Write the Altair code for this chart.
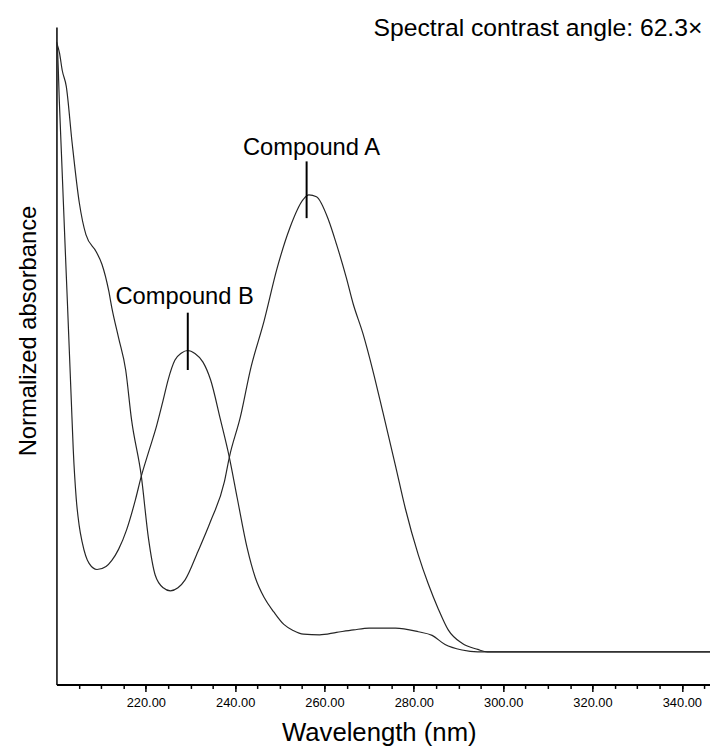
import altair as alt
import pandas as pd

# ---- data ----
wl_a = [200.0, 200.7, 201.3, 202.2, 203.5, 205.1, 206.6, 208.9, 210.2, 211.7,
        212.4, 213.9, 215.5, 216.8, 219.0, 220.6, 222.1, 223.9, 225.5, 227.2,
        228.8, 231.7, 234.5, 237.6, 238.7, 241.2, 243.4, 246.5, 249.4, 252.2,
        255.3, 256.5, 258.2, 260.9, 262.7, 264.9, 266.4, 268.6, 270.8, 273.1,
        275.9, 278.1, 281.0, 283.2, 285.5, 287.7, 290.8, 294.3, 296.5, 346.3]
abs_a = [1.000, 0.981, 0.953, 0.927, 0.835, 0.737, 0.684, 0.656, 0.635, 0.592,
         0.564, 0.515, 0.462, 0.381, 0.288, 0.186, 0.126, 0.105, 0.100, 0.105,
         0.118, 0.165, 0.214, 0.279, 0.319, 0.386, 0.462, 0.543, 0.629, 0.694,
         0.742, 0.749, 0.746, 0.708, 0.668, 0.613, 0.571, 0.522, 0.462, 0.392,
         0.305, 0.235, 0.159, 0.112, 0.070, 0.036, 0.014, 0.004, 0.0, 0.0]

wl_b = [200.0, 200.22, 200.66, 201.11, 201.55, 201.99, 202.44, 202.88, 203.32, 203.76,
        204.43, 205.09, 205.76, 207.31, 209.08, 211.1, 212.4, 213.9, 215.7, 217.7,
        219.0, 220.6, 222.4, 223.9, 225.0, 226.5, 228.0, 229.4, 231.0, 232.8,
        234.5, 236.7, 238.7, 240.5, 242.7, 244.5, 246.5, 248.7, 250.9, 253.0,
        255.3, 258.9, 262.7, 266.5, 270.0, 275.9, 281.0, 284.1, 287.0, 290.8,
        294.3, 346.3]
abs_b = [1.000, 0.989, 0.900, 0.818, 0.737, 0.656, 0.575, 0.494, 0.413, 0.332,
         0.251, 0.207, 0.180, 0.145, 0.135, 0.140, 0.150, 0.168, 0.200, 0.250,
         0.288, 0.327, 0.370, 0.413, 0.446, 0.478, 0.490, 0.494, 0.489, 0.475,
         0.446, 0.381, 0.319, 0.251, 0.170, 0.122, 0.089, 0.065, 0.045, 0.035,
         0.029, 0.028, 0.032, 0.036, 0.039, 0.039, 0.033, 0.027, 0.012, 0.003,
         0.0, 0.0]

compounds = ["Compound A", "Compound B"]
label_wl = [257.1, 228.7]
label_abs = [0.815, 0.570]
marker_wl = [256.0, 229.4]
marker_top = [0.804, 0.556]
marker_bottom = [0.711, 0.462]

angle_text = ["Spectral contrast angle: 62.3\u00d7"]
angle_wl = [344.6]
angle_abs = [1.0097]

minor_ticks = list(range(205, 350, 5))
major_ticks = list(range(220, 350, 20))
x_domain = [200, 346.3]
y_domain = [-0.0535, 1.0243]

assert len(wl_a) == len(abs_a) and len(wl_b) == len(abs_b)

FONT = "Liberation Sans"

spectra = pd.DataFrame({
    "wavelength": wl_a + wl_b,
    "absorbance": abs_a + abs_b,
    "compound": ["Compound A"] * len(wl_a) + ["Compound B"] * len(wl_b),
})
labels_df = pd.DataFrame({
    "compound": compounds, "wl": label_wl, "ab": label_abs,
    "mwl": marker_wl, "mtop": marker_top, "mbot": marker_bottom,
})
angle_df = pd.DataFrame({"text": angle_text, "wl": angle_wl, "ab": angle_abs})

x_scale = alt.Scale(domain=x_domain, nice=False, zero=False)
y_scale = alt.Scale(domain=y_domain, nice=False, zero=False)

lines = alt.Chart(spectra).mark_line(
    color="#262626", strokeWidth=1.2, interpolate="monotone", clip=True
).encode(
    x=alt.X("wavelength:Q", scale=x_scale,
            axis=alt.Axis(orient="bottom", values=minor_ticks, tickSize=4,
                          labels=False, grid=False, title=None,
                          domain=True, domainColor="black", domainWidth=2,
                          ticks=True, tickColor="black", tickWidth=1.5)),
    y=alt.Y("absorbance:Q", scale=y_scale,
            axis=alt.Axis(orient="left", domain=True, domainColor="black",
                          domainWidth=1.5, ticks=False, labels=False, grid=False,
                          title="Normalized absorbance", titleFont=FONT,
                          titleFontSize=24, titleFontWeight="normal",
                          titleColor="black", titleAngle=270,
                          titleX=-21.5, titleY=307, titleAlign="center",
                          titleBaseline="alphabetic")),
    detail="compound:N",
)

texts = alt.Chart(labels_df).mark_text(
    font=FONT, fontSize=24, baseline="alphabetic", align="center", color="black"
).encode(
    x=alt.X("wl:Q", scale=x_scale,
            axis=alt.Axis(orient="bottom", values=major_ticks, format=".2f",
                          tickSize=7, tickColor="black", tickWidth=1.5,
                          domain=False, grid=False,
                          labelFont=FONT, labelFontSize=13, labelColor="black",
                          labelPadding=5,
                          title="Wavelength (nm)", titleFont=FONT,
                          titleFontSize=26, titleFontWeight="normal",
                          titleColor="black", titleX=326, titleY=57,
                          titleAlign="center", titleBaseline="alphabetic")),
    y=alt.Y("ab:Q", scale=y_scale, axis=None),
    text="compound:N",
)

markers = alt.Chart(labels_df).mark_rule(color="black", strokeWidth=2).encode(
    x=alt.X("mwl:Q", scale=x_scale, axis=None),
    y=alt.Y("mtop:Q", scale=y_scale, axis=None),
    y2="mbot:Q",
)

angle = alt.Chart(angle_df).mark_text(
    font=FONT, fontSize=25, baseline="alphabetic", align="right", color="black"
).encode(
    x=alt.X("wl:Q", scale=x_scale, axis=None),
    y=alt.Y("ab:Q", scale=y_scale, axis=None),
    text="text:N",
)

chart = alt.layer(lines, texts, markers, angle).resolve_axis(
    x="independent", y="independent"
).properties(
    width=661, height=665,
    padding={"left": 49, "top": 15, "right": 0, "bottom": 60},
    autosize=alt.AutoSizeParams(type="none"),
    background="white",
).configure_view(stroke=None)

chart.save("out.html", embed_options={"renderer": "svg", "actions": False})
